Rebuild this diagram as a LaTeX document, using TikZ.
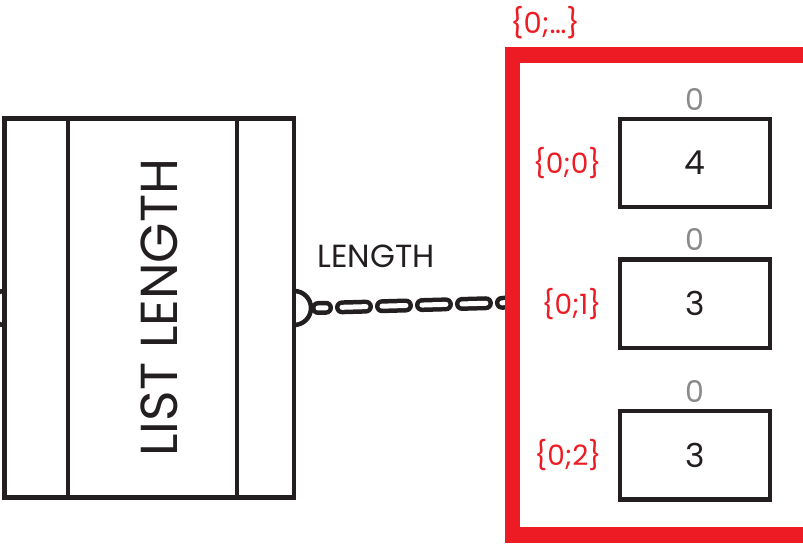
\documentclass[tikz,border=0pt]{standalone}
\usepackage{fontspec}
\setmainfont{Poppins}
\usetikzlibrary{positioning}
\definecolor{framered}{RGB}{237,28,36}
\definecolor{ink}{RGB}{35,31,32}
\definecolor{idxgray}{RGB}{138,138,138}

\begin{document}
\begin{tikzpicture}[x=1pt,y=1pt,
    part/.style ={rectangle, draw=ink, line width=4.5pt, outer sep=0pt, inner sep=0pt, minimum height=379pt},
    cell/.style ={rectangle, draw=ink, line width=4.2pt, minimum width=150pt, minimum height=88.5pt, text=ink, font=\fontsize{33}{33}\selectfont},
    idx/.style ={text=idxgray, font=\fontsize{30}{30}\selectfont, label distance=3pt},
    key/.style ={text=framered, font=\fontsize{28}{28}\selectfont, label distance=13pt}]
   \useasboundingbox (0,0) rectangle (803,545);
   \clip (0,0) rectangle (803,545);

   \node[part, minimum width=63.3pt] (lpart) at (36.35,237) {};
   \node[part, minimum width=169pt, right=0pt of lpart] (body) {};
   \node[part, minimum width=57pt, right=0pt of body] (rpart) {};
   \node[rotate=90, text=ink, font=\fontsize{52}{52}\selectfont] (title) at (159,237.5) {LIST LENGTH};

   \draw[ink, line width=4.5pt] (lpart.west) ++(0,17) arc[start angle=90, end angle=270, radius=17pt];
   \draw[ink, line width=4.5pt] (rpart.east) ++(0,17) arc[start angle=90, end angle=-90, radius=17pt];

   \node[text=ink, font=\fontsize{32}{32}\selectfont] (lenname) at (376,288.5) {LENGTH};

   \path (rpart.east) ++(24,0) coordinate (plug);
   \coordinate (dock) at (512.5,242.5);
   \draw[ink, line width=4.5pt, double=white, double distance=5pt, line cap=round,
         dash pattern=on 24pt off 16pt, dash phase=16pt] (plug) -- (dock);

   \draw[framered, line width=15.5pt] (830,490) -- (512.5,490) -- (512.5,10) -- (830,10);
   \node[text=framered, font=\fontsize{29}{29}\selectfont] (range) at (545,522) {\{0;…\}};

   \node[cell, label={[idx]90:0}, label={[key]180:\{0;0\}}] (c0) at (695,382) {4};
   \node[cell, label={[idx]90:0}, label={[key]180:\{0;1\}}] (c1) at (695,241.3) {3};
   \node[cell, label={[idx]90:0}, label={[key]180:\{0;2\}}] (c2) at (695,89.7) {3};
\end{tikzpicture}
\end{document}
